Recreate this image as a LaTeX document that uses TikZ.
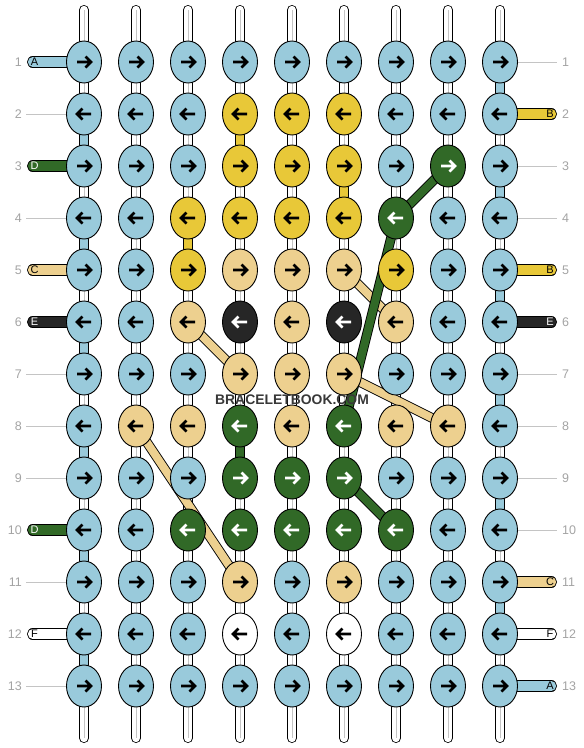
\documentclass[tikz,border=0pt]{standalone}
\usepackage{fontspec}
\setmainfont{Liberation Sans}
\usetikzlibrary{shapes.geometric}

\pgfdeclarelayer{strings}
\pgfdeclarelayer{bars}
\pgfsetlayers{strings,bars,main}

\definecolor{cL}{HTML}{99CADB}
\definecolor{cY}{HTML}{E8C838}
\definecolor{cT}{HTML}{EDD08F}
\definecolor{cG}{HTML}{316927}
\definecolor{cK}{HTML}{262626}
\definecolor{cW}{HTML}{FFFFFF}
\colorlet{aL}{black}
\colorlet{aY}{black}
\colorlet{aT}{black}
\colorlet{aW}{black}
\colorlet{aG}{white}
\colorlet{aK}{white}
\definecolor{rowgray}{HTML}{A3A3A3}
\definecolor{guidegray}{HTML}{C4C4C4}

\tikzset{
  knot/.style={ellipse, draw, line width=0.9pt, fill=c#1, minimum width=35pt, minimum height=42pt, inner sep=0pt},
  arw/.style={line width=2.6pt, draw=a#1, line join=miter},
  strand/.style={draw=black, line width=0.8pt, double=c#1, double distance=8.4pt},
  strand/.default=W,
  midline/.style={draw=guidegray, line width=0.8pt},
  bar/.style={draw=black, line width=0.9pt, double=c#1, double distance=9.4pt},
  guide/.style={draw=guidegray, line width=0.9pt},
  tag/.style={font=\fontsize{11}{12}\selectfont, text=a#1, inner sep=0pt},
  num/.style={font=\fontsize{12.5}{14}\selectfont, text=rowgray, inner sep=0pt}
}

\begin{document}
\begin{tikzpicture}[x=1pt,y=-1pt]
  \useasboundingbox (0,0) rectangle (584,748);

  % Knots
  \foreach \rw/\dr/\cols in {
    1/1/{L,L,L,L,L,L,L,L,L},
    2/-1/{L,L,L,Y,Y,Y,L,L,L},
    3/1/{L,L,L,Y,Y,Y,L,G,L},
    4/-1/{L,L,Y,Y,Y,Y,G,L,L},
    5/1/{L,L,Y,T,T,T,Y,L,L},
    6/-1/{L,L,T,K,T,K,T,L,L},
    7/1/{L,L,L,T,T,T,L,L,L},
    8/-1/{L,T,T,G,T,G,T,T,L},
    9/1/{L,L,L,G,G,G,L,L,L},
    10/-1/{L,L,G,G,G,G,G,L,L},
    11/1/{L,L,L,T,L,T,L,L,L},
    12/-1/{L,L,L,W,L,W,L,L,L},
    13/1/{L,L,L,L,L,L,L,L,L}} {
    \foreach \kc [count=\cc] in \cols {
      \node[knot=\kc] (k\rw-\cc) at ({84+52*(\cc-1)},{62+52*(\rw-1)}) {};
      \draw[arw=\kc] (k\rw-\cc.center) ++({-7*\dr},0) -- ++({14*\dr},0)
        ++({-5.5*\dr},-5.5) -- ++({5.5*\dr},5.5) -- ++({-5.5*\dr},5.5);
    }
  }

  % Base strings
  \begin{pgfonlayer}{strings}
    \foreach \cc in {1,...,9} {
      \coordinate (t\cc) at ({84+52*(\cc-1)},10);
      \coordinate (b\cc) at ({84+52*(\cc-1)},738);
      \draw[strand, line cap=round] (t\cc) -- (k1-\cc.center);
      \draw[strand, line cap=round] (k13-\cc.center) -- (b\cc);
      \draw[midline] (t\cc) -- (k1-\cc.center);
      \draw[midline] (k13-\cc.center) -- (b\cc);
    }
    \foreach \rw [evaluate=\rw as \nx using int(\rw+1)] in {1,...,12}
      \foreach \cc in {1,...,9} {
        \draw[strand] (k\rw-\cc.center) -- (k\nx-\cc.center);
        \draw[midline] (k\rw-\cc.center) -- (k\nx-\cc.center);
      }
    % row thread turning, colours carried down
    \foreach \rw/\nx/\cc/\kc in {1/2/9/L, 2/3/1/L, 3/4/9/L, 4/5/1/L, 5/6/9/L, 6/7/1/L,
        7/8/9/L, 8/9/1/L, 9/10/9/L, 10/11/1/L, 11/12/9/L, 12/13/1/L,
        2/3/4/Y, 3/4/6/Y, 4/5/3/Y, 8/9/4/G}
      \draw[strand=\kc] (k\rw-\cc.center) -- (k\nx-\cc.center);
  \end{pgfonlayer}

  % Row threads and loose ends
  \begin{pgfonlayer}{bars}
    \foreach \rw in {1,...,13}
      \foreach \cc [evaluate=\cc as \nc using int(\cc+1)] in {1,...,8}
        \draw[bar=L] (k\rw-\cc.center) -- (k\rw-\nc.center);
    \foreach \rw/\kc/\tx in {1/L/A, 3/G/D, 5/T/C, 6/K/E, 10/G/D, 12/W/F} {
      \coordinate (l\rw) at (32.6,{62+52*(\rw-1)});
      \draw[bar=\kc, line cap=round] (l\rw) -- (k\rw-1.center);
      \node[tag=\kc] (tl\rw) at (34.5,{62+52*(\rw-1)}) {\tx};
    }
    \foreach \rw/\kc/\tx in {2/Y/B, 5/Y/B, 6/K/E, 11/T/C, 12/W/F, 13/L/A} {
      \coordinate (r\rw) at (551.4,{62+52*(\rw-1)});
      \draw[bar=\kc, line cap=round] (k\rw-9.center) -- (r\rw);
      \node[tag=\kc] (tr\rw) at (550,{62+52*(\rw-1)}) {\tx};
    }
    \foreach \rw in {2,4,7,8,9,11,13} {
      \coordinate (g\rw) at (26,{62+52*(\rw-1)});
      \draw[guide] (g\rw) -- (k\rw-1.center);
    }
    \foreach \rw in {1,3,4,7,8,9,10} {
      \coordinate (h\rw) at (557,{62+52*(\rw-1)});
      \draw[guide] (k\rw-9.center) -- (h\rw);
    }
    % diagonal carries
    \foreach \a/\b/\kc in {5-6/6-7/T, 6-3/7-4/T, 7-6/8-8/T, 8-2/11-4/T,
        3-8/4-7/G, 4-7/8-6/G, 9-6/10-7/G}
      \draw[bar=\kc, double distance=8pt] (k\a.center) -- (k\b.center);
  \end{pgfonlayer}

  % Row numbers
  \foreach \rw in {1,...,13} {
    \node[num, anchor=east] (nl\rw) at (22,{62+52*(\rw-1)}) {\rw};
    \node[num, anchor=west] (nr\rw) at (562,{62+52*(\rw-1)}) {\rw};
  }

  \node[font=\bfseries\fontsize{13.9}{16}\selectfont, text=black!78, inner sep=0pt] (mark) at (292,399.5) {BRACELETBOOK.COM};
\end{tikzpicture}
\end{document}
